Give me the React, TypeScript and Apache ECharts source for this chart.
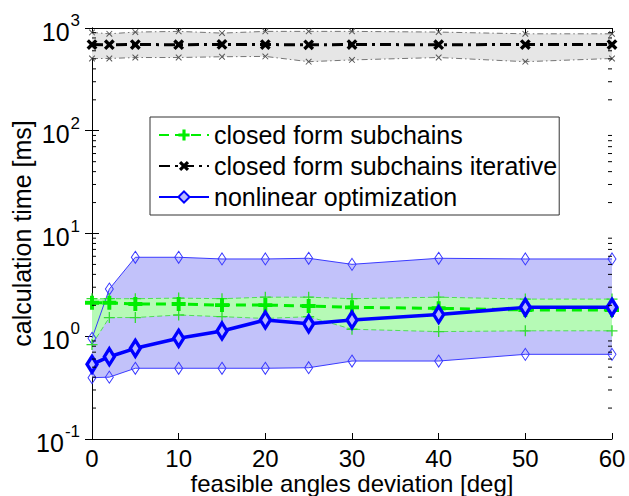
import React, { useEffect, useRef } from "react";
import * as echarts from "echarts";

// ---- data ----
const X_VALUES = [0, 2, 5, 10, 15, 20, 25, 30, 40, 50, 60];

const ITER_MEAN = [690, 688, 690, 688, 692, 690, 686, 690, 688, 690, 690];
const ITER_UPPER = [906, 878, 913, 927, 892, 927, 927, 927, 913, 878, 878];
const ITER_LOWER = [505, 505, 516, 516, 525, 529, 470, 489, 516, 470, 505];

const CLOSED_MEAN = [2.12, 2.12, 2.06, 2.06, 2.01, 2.01, 1.97, 1.91, 1.87, 1.8, 1.8];
const CLOSED_UPPER = [2.32, 2.32, 2.32, 2.35, 2.32, 2.4, 2.4, 2.32, 2.4, 2.3, 2.3];
const CLOSED_LOWER = [0.83, 1.52, 1.52, 1.61, 1.55, 1.49, 1.55, 1.17, 1.11, 1.13, 1.13];

const NL_MEAN = [0.533, 0.632, 0.763, 0.955, 1.125, 1.44, 1.32, 1.44, 1.63, 1.91, 1.91];
const NL_UPPER = [0.955, 2.88, 5.87, 5.87, 5.65, 5.65, 5.74, 5.01, 5.74, 5.65, 5.65];
const NL_LOWER = [0.395, 0.4, 0.488, 0.488, 0.488, 0.488, 0.494, 0.574, 0.574, 0.667, 0.667];

const X_MIN = 0;
const X_MAX = 60;
const X_INTERVAL = 10;
const Y_MIN = 0.1;
const Y_MAX = 1000;
const MINOR_TICKS = [
  0.2, 0.3, 0.4, 0.5, 0.6, 0.7, 0.8, 0.9,
  2, 3, 4, 5, 6, 7, 8, 9,
  20, 30, 40, 50, 60, 70, 80, 90,
  200, 300, 400, 500, 600, 700, 800, 900,
];

const NAME_CLOSED = "closed form subchains";
const NAME_ITER = "closed form subchains iterative";
const NAME_NL = "nonlinear optimization";
const X_TITLE = "feasible angles deviation [deg]";
const Y_TITLE = "calculation time [ms]";

const FONT = "'Liberation Sans', Arial, Helvetica, sans-serif";

const PLUS_THICK = "path://M3.6,0H6.4V3.6H10V6.4H6.4V10H3.6V6.4H0V3.6H3.6Z";
const PLUS_THIN = "path://M4.4,0H5.6V4.4H10V5.6H5.6V10H4.4V5.6H0V4.4H4.4Z";

function band(upper: number[], lower: number[], fill: string, z: number) {
  return {
    type: "custom",
    coordinateSystem: "cartesian2d",
    z,
    silent: true,
    clip: true,
    data: [[X_VALUES[0], upper[0]]],
    renderItem: (_params: any, api: any) => {
      const pts: number[][] = [];
      for (let i = 0; i < X_VALUES.length; i++) pts.push(api.coord([X_VALUES[i], upper[i]]));
      for (let i = X_VALUES.length - 1; i >= 0; i--) pts.push(api.coord([X_VALUES[i], lower[i]]));
      return { type: "polygon", shape: { points: pts }, style: { fill, stroke: "none" } };
    },
  };
}

function line(
  name: string,
  values: number[],
  color: string,
  width: number,
  dash: any,
  symbol: string,
  size: any,
  symFill: string,
  borderW: number,
  z: number,
  rotate = 0
) {
  return {
    type: "line",
    name,
    z,
    silent: true,
    data: X_VALUES.map((x, i) => [x, values[i]]),
    symbol,
    symbolSize: size,
    symbolRotate: rotate,
    showSymbol: true,
    showAllSymbol: true,
    lineStyle: { color, width, type: dash },
    itemStyle: { color: symFill, borderColor: color, borderWidth: borderW },
    emphasis: { disabled: true },
  };
}

export default function App() {
  const ref = useRef<HTMLDivElement>(null);

  useEffect(() => {
    if (!ref.current) return;
    const chart = echarts.init(ref.current, undefined, { renderer: "svg" });

    const minorTickSeries = {
      type: "custom",
      coordinateSystem: "cartesian2d",
      z: 10,
      silent: true,
      clip: false,
      data: MINOR_TICKS.map((v) => [X_MIN, v]),
      renderItem: (_params: any, api: any) => {
        const v = api.value(1);
        const a = api.coord([X_MIN, v]);
        const b = api.coord([X_MAX, v]);
        return {
          type: "group",
          children: [
            { type: "line", shape: { x1: a[0], y1: a[1], x2: a[0] + 4, y2: a[1] }, style: { stroke: "#000", lineWidth: 1 } },
            { type: "line", shape: { x1: b[0], y1: b[1], x2: b[0] - 4, y2: b[1] }, style: { stroke: "#000", lineWidth: 1 } },
          ],
        };
      },
    };

    const axisLine = { show: true, lineStyle: { color: "#000", width: 1 } };

    chart.setOption({
      animation: false,
      grid: { left: 92, right: 17, top: 28, bottom: 57, containLabel: false, outerBoundsMode: "none" },
      legend: {
        data: [NAME_CLOSED, NAME_ITER, NAME_NL],
        orient: "vertical",
        left: 150,
        top: 117,
        padding: [5, 2, 5, 8],
        itemGap: 5,
        itemWidth: 50,
        itemHeight: 14,
        backgroundColor: "#fff",
        borderColor: "#333",
        borderWidth: 1,
        borderRadius: 0,
        selectedMode: false,
        textStyle: { fontSize: 25, color: "#000", fontFamily: FONT, lineHeight: 26 },
      },
      xAxis: [
        {
          type: "value",
          min: X_MIN,
          max: X_MAX,
          interval: X_INTERVAL,
          position: "bottom",
          axisLine,
          axisTick: { show: true, inside: true, length: 6, lineStyle: { color: "#000" } },
          axisLabel: { fontSize: 24, lineHeight: 22, color: "#000", fontFamily: FONT, margin: 8 },
          splitLine: { show: false },
          name: X_TITLE,
          nameLocation: "middle",
          nameGap: 33,
          nameMoveOverlap: false,
          nameTextStyle: { fontSize: 24, lineHeight: 22, color: "#000", fontFamily: FONT },
        },
        {
          type: "value",
          min: X_MIN,
          max: X_MAX,
          interval: X_INTERVAL,
          position: "top",
          axisLine,
          axisTick: { show: true, inside: true, length: 6, lineStyle: { color: "#000" } },
          axisLabel: { show: false },
          splitLine: { show: false },
        },
      ],
      yAxis: [
        {
          type: "log",
          logBase: 10,
          min: Y_MIN,
          max: Y_MAX,
          position: "left",
          axisLine,
          axisTick: { show: true, inside: true, length: 7, lineStyle: { color: "#000" } },
          splitLine: { show: false },
          axisLabel: {
            margin: 12,
            color: "#000",
            fontFamily: FONT,
            formatter: (v: number) => `{b|10}{e|${Math.round(Math.log10(v))}}`,
            rich: {
              b: { fontSize: 25, color: "#000", fontFamily: FONT, verticalAlign: "bottom" },
              e: { fontSize: 17, color: "#000", fontFamily: FONT, verticalAlign: "bottom", padding: [0, 0, 15, 1] },
            },
          },
          name: Y_TITLE,
          nameLocation: "middle",
          nameGap: 58,
          nameMoveOverlap: false,
          nameRotate: 90,
          nameTextStyle: { fontSize: 25, color: "#000", fontFamily: FONT },
        },
        {
          type: "log",
          logBase: 10,
          min: Y_MIN,
          max: Y_MAX,
          position: "right",
          axisLine,
          axisTick: { show: true, inside: true, length: 7, lineStyle: { color: "#000" } },
          axisLabel: { show: false },
          splitLine: { show: false },
        },
      ],
      series: [
        band(NL_UPPER, NL_LOWER, "#c2c2fa", 1),
        band(CLOSED_UPPER, CLOSED_LOWER, "#b6fab6", 1),
        band(ITER_UPPER, ITER_LOWER, "#e6e6e6", 1),
        line("nl-upper", NL_UPPER, "#3a3aff", 1, "solid", "diamond", [8, 12], "rgba(0,0,0,0)", 1, 3),
        line("nl-lower", NL_LOWER, "#3a3aff", 1, "solid", "diamond", [8, 12], "rgba(0,0,0,0)", 1, 3),
        line("cl-upper", CLOSED_UPPER, "#33dd33", 0.8, [5, 3], PLUS_THIN, 11, "#33dd33", 0, 3),
        line("cl-lower", CLOSED_LOWER, "#33dd33", 0.8, [5, 3], PLUS_THIN, 11, "#33dd33", 0, 3),
        line("it-upper", ITER_UPPER, "#555", 0.8, [6, 3, 1.5, 3], PLUS_THIN, 8, "#555", 0, 3, 45),
        line("it-lower", ITER_LOWER, "#555", 0.8, [6, 3, 1.5, 3], PLUS_THIN, 8, "#555", 0, 3, 45),
        line(NAME_CLOSED, CLOSED_MEAN, "#00ee00", 3, [10, 6], PLUS_THICK, 14, "#00ee00", 0, 4),
        line(NAME_ITER, ITER_MEAN, "#000", 3, [11, 5, 3, 5], PLUS_THICK, 12, "#000", 0, 4, 45),
        line(NAME_NL, NL_MEAN, "#0000ff", 3.5, "solid", "diamond", [10, 16], "#b8b8ff", 3.5, 5),
        minorTickSeries,
      ],
    });

    return () => chart.dispose();
  }, []);

  return <div ref={ref} style={{ position: "absolute", left: 0, top: 0, width: 629, height: 496 }} />;
}
